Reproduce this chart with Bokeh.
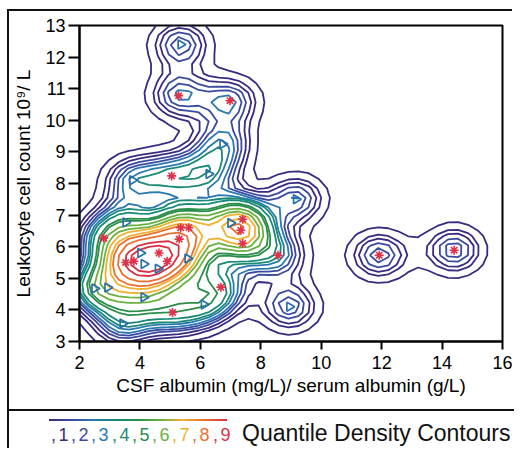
import numpy as np
from bokeh.plotting import figure
from bokeh.layouts import column
from bokeh.models import Div, InlineStyleSheet
from bokeh.embed import file_html
from bokeh.resources import INLINE

# ---------------- data ----------------
tri_x = [5.35, 3.75, 6.28, 6.74, 9.17, 8.95, 3.53, 4.02, 4.13, 4.60, 5.58, 2.50, 2.93, 4.13, 3.43, 6.12, 7.00]
tri_y = [12.40, 8.10, 8.30, 9.25, 7.50, 4.10, 6.77, 5.80, 5.45, 5.30, 5.63, 4.68, 4.71, 4.40, 3.57, 4.17, 6.75]
ast_x = [5.05, 5.28, 6.98, 11.92, 14.40, 8.57, 2.80, 5.35, 5.62, 5.30, 4.63, 3.53, 3.80, 4.90, 5.08, 6.68, 7.40, 7.34, 7.40]
ast_y = [8.24, 10.78, 10.62, 5.73, 5.89, 5.73, 6.27, 6.60, 6.60, 6.24, 5.80, 5.50, 5.54, 5.54, 3.92, 4.72, 6.87, 6.52, 6.10]

x_ticks = [2, 4, 6, 8, 10, 12, 14, 16]
y_ticks = [3, 4, 5, 6, 7, 8, 9, 10, 11, 12, 13]
legend_digits = ["1", "2", "3", "4", "5", "6", "7", "8", "9"]
quantiles = [0.05 * k for k in range(1, 20)]

legend_colors = ["#3a2a80", "#3a4a9e", "#2a78b0", "#1a8a78", "#2a8e4a",
                 "#6ab040", "#f0b030", "#e87030", "#d83040"]

# ---------------- density (kernel estimate of the points) ----------------
px = np.array(tri_x + ast_x)
py = np.array(tri_y + ast_y)
gx = np.linspace(0.0, 17.5, 54)
gy = np.linspace(1.5, 14.5, 44)
GX, GY = np.meshgrid(gx, gy)
hx, hy = 0.7, 0.55
Z = np.zeros_like(GX)
for xx, yy in zip(px, py):
    Z += np.exp(-0.5 * ((GX - xx) / hx) ** 2 - 0.5 * ((GY - yy) / hy) ** 2)

fs = np.sort(Z.ravel())
cum = np.cumsum(fs)
cum /= cum[-1]
levels = [float(fs[np.searchsorted(cum, q)]) for q in quantiles]

# colour of each quantile line: the legend colour of its decile
line_colors = [legend_colors[max(0, min(8, int(q * 10 + 1e-9) - 1))] for q in quantiles]

FONT = "Liberation Sans"

p = figure(width=505, height=400, x_range=(2, 16), y_range=(3, 13),
           output_backend="svg", toolbar_location=None,
           min_border_left=70, min_border_right=12, min_border_top=14, min_border_bottom=70)
p.margin = (9, 0, 0, 7)
p.stylesheets = [InlineStyleSheet(css=":host { border-left: 2px solid #111; border-top: 2px solid #111; }")]
p.xgrid.visible = False
p.ygrid.visible = False
p.outline_line_color = "black"
p.outline_line_width = 2
p.background_fill_color = "white"
p.border_fill_color = "white"

p.contour(gx, gy, Z, levels=levels, line_color=line_colors, line_width=1.8)

p.scatter(tri_x, tri_y, marker="triangle", angle=-np.pi / 2, size=9,
          fill_color=None, line_color="#2a70a8", line_width=1.7)
p.scatter(ast_x, ast_y, marker="asterisk", size=9,
          line_color="#e0304a", line_width=1.6)

for ax in (p.xaxis[0], p.yaxis[0]):
    ax.major_label_text_font = FONT
    ax.major_label_text_font_size = "18px"
    ax.major_label_text_color = "black"
    ax.axis_label_text_font = FONT
    ax.axis_label_text_font_size = "19px"
    ax.axis_label_text_font_style = "normal"
    ax.axis_label_text_color = "black"
    ax.axis_line_width = 2
    ax.major_tick_line_width = 2
    ax.major_tick_in = 0
    ax.minor_tick_line_color = None

p.xaxis.ticker = x_ticks
p.yaxis.ticker = y_ticks
p.xaxis.major_tick_out = 8
p.yaxis.major_tick_out = 11
p.xaxis.axis_label = "CSF albumin (mg/L)/ serum albumin (g/L)"
p.yaxis.axis_label = "Leukocyte cell count 10\u2079/ L"
p.xaxis.axis_label_standoff = 3
p.yaxis.axis_label_standoff = 8
p.xaxis.major_label_standoff = 6
p.yaxis.major_label_standoff = 3

# ---------------- legend strip ----------------
grad = ", ".join(legend_colors)
parts = ['<div style="position:relative;width:507px;height:39px;border-left:2px solid #111;'
         'border-top:2px solid #111;box-sizing:border-box;font-family:\'Liberation Sans\';">',
         '<div style="position:absolute;left:40px;top:8px;width:178px;height:2px;'
         'background:linear-gradient(to right, %s);"></div>' % grad]
for i, d in enumerate(legend_digits):
    parts.append('<span style="position:absolute;left:%dpx;top:15px;font-size:18px;line-height:18px;'
                 'letter-spacing:2.5px;color:%s;white-space:nowrap;">,%s</span>'
                 % (42 + round(i * 20.2), legend_colors[i], d))
parts.append('<span style="position:absolute;left:233px;top:11px;font-size:23px;line-height:23px;'
             'color:#111;white-space:nowrap;">Quantile Density Contours</span>')
parts.append('</div>')
legend_div = Div(width=507, height=39, margin=(0, 0, 0, 7), text="".join(parts))

layout = column(p, legend_div, spacing=0)

open("out.html", "w").write(file_html(layout, INLINE))
